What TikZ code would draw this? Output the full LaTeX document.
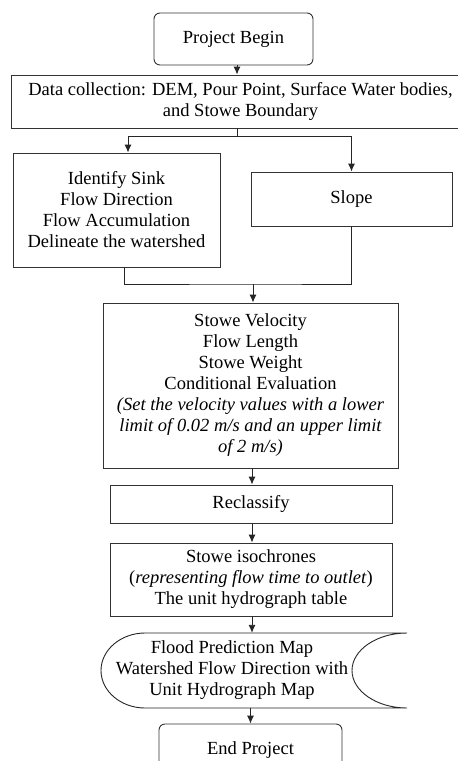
\documentclass[tikz,border=0pt]{standalone}
\usepackage{fontspec}
\setmainfont{Liberation Serif}
\usetikzlibrary{arrows.meta,calc,positioning}

\begin{document}
\begin{tikzpicture}[
  x=1pt, y=-1pt,
  every node/.style={font=\fontsize{18.5}{21}\selectfont, inner sep=0pt},
  box/.style={draw=black!80, line width=0.9pt, align=center},
  terminal/.style={box, rounded corners=6pt},
  arrow/.style={-{Latex[length=8pt,width=7pt]}, line width=0.9pt, draw=black!85},
  link/.style={line width=0.9pt, draw=black!85}
]
\useasboundingbox (0,0) rectangle (458,761);
\clip (0,0) rectangle (458,761);
\node[terminal, minimum width=159pt, minimum height=52pt] (begin) at (233.5,39) {Project Begin};
\node[box, minimum width=459pt, minimum height=53pt] (data) at (240.5,101.5)
  {Data collection: DEM, Pour Point, Surface Water bodies,\\and Stowe Boundary};
\node[box, minimum width=207pt, minimum height=114pt] (sink) at (116.5,210)
  {Identify Sink\\Flow Direction\\Flow Accumulation\\Delineate the watershed};
\node[box, minimum width=201pt, minimum height=54pt] (slope) at (351.5,199) {Slope};
\node[box, minimum width=295pt, minimum height=165pt] (velocity) at (250.5,385.5)
  {Stowe Velocity\\Flow Length\\Stowe Weight\\Conditional Evaluation\\
   \itshape(Set the velocity values with a lower\\
   \itshape limit of 0.02 m/s and an upper limit\\
   \itshape of 2 m/s)};
\node[box, minimum width=282pt, minimum height=38pt] (reclass) at (251,504) {Reclassify};
\node[box, minimum width=282pt, minimum height=73pt] (iso) at (251,579.5)
  {Stowe isochrones\\(\textit{representing flow time to outlet})\\The unit hydrograph table};
% stored data shape
\node[minimum width=306pt, minimum height=75pt] (flood) at (254,670.5) {};
\draw[link] (145,633) -- (407,633)
  .. controls (377,633) and (352,649.8) .. (352,670.5)
  .. controls (352,691.2) and (377,708) .. (407,708)
  -- (145,708)
  .. controls (121,708) and (101,691.2) .. (101,670.5)
  .. controls (101,649.8) and (121,633) .. (145,633);
\node[align=center] (floodtext) at (232,670.5)
  {Flood Prediction Map\\Watershed Flow Direction with\\Unit Hydrograph Map};
\node[terminal, minimum width=183pt, minimum height=52pt] (finish) at (250.5,750) {End Project};

\coordinate (fork) at (237,136);
\coordinate (join) at (253,284);
\draw[arrow] (begin.south -| fork) -- (data.north -| fork);
\draw[link] (data.south -| fork) -- (fork);
\draw[arrow] (fork) -| ([xshift=11.5pt]sink.north);
\draw[arrow] (fork) -| (slope.north);
\draw[link] ([xshift=7.5pt]sink.south) |- (join) -| ([xshift=-0.5pt]slope.south);
\draw[arrow] (join) -- (join |- velocity.north);
\draw[arrow] ([xshift=1.5pt]velocity.south) -- ([xshift=1.5pt]velocity.south |- reclass.north);
\draw[arrow] ([xshift=1pt]reclass.south) -- ([xshift=1pt]iso.north);
\draw[arrow] ([xshift=1pt]iso.south) -- ([xshift=1pt]iso.south |- flood.north);
\draw[arrow] (flood.south -| finish) -- (finish.north);
\end{tikzpicture}
\end{document}
